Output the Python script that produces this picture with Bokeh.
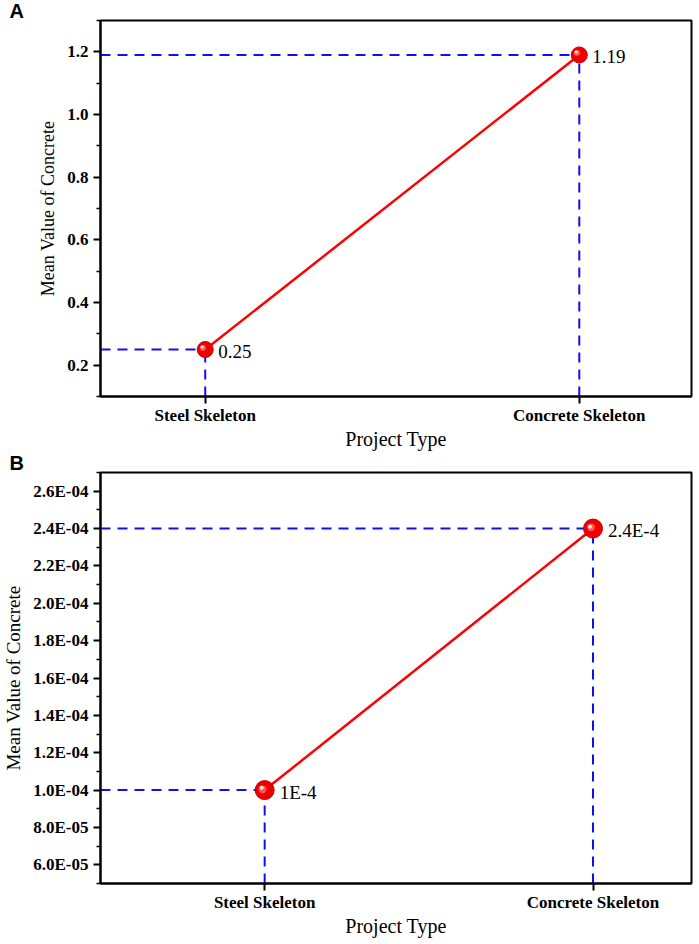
import numpy as np
from bokeh.plotting import figure
from bokeh.models import FixedTicker, Range1d, CustomJSTickFormatter
from bokeh.layouts import column
from bokeh.embed import file_html
from bokeh.resources import INLINE
from bokeh.core.properties import value

# ---------------- data ----------------
categories = ["Steel Skeleton", "Concrete Skeleton"]
x_pos = [0, 1]

values_a = [0.25, 1.19]
point_labels_a = ["0.25", "1.19"]
yticks_a = [0.2, 0.4, 0.6, 0.8, 1.0, 1.2]
yticks_a_labels = ["0.2", "0.4", "0.6", "0.8", "1.0", "1.2"]

values_b = [1.0e-4, 2.4e-4]
point_labels_b = ["1E-4", "2.4E-4"]
yticks_b = [6.0e-5, 8.0e-5, 1.0e-4, 1.2e-4, 1.4e-4, 1.6e-4, 1.8e-4,
            2.0e-4, 2.2e-4, 2.4e-4, 2.6e-4]
yticks_b_labels = ["6.0E-05", "8.0E-05", "1.0E-04", "1.2E-04", "1.4E-04",
                   "1.6E-04", "1.8E-04", "2.0E-04", "2.2E-04", "2.4E-04",
                   "2.6E-04"]

SERIF = "Liberation Serif"
RED = "#ff0000"
BLUE = "#1010ee"


def tick_fmt(ticks, labels):
    return CustomJSTickFormatter(args=dict(t=ticks, l=labels), code="""
        let b = 0;
        for (let i = 0; i < t.length; i++) {
            if (Math.abs(t[i] - tick) < Math.abs(t[b] - tick)) b = i;
        }
        return l[b];
    """)


def make_panel(values, point_labels, yticks, ytick_labels, minor, y_lo, y_hi,
               x_lo, x_hi, height, mb_bottom, msize, ylab_fs, letter, lab_off):
    p = figure(width=694, height=height, output_backend="svg",
               toolbar_location=None, title=letter,
               x_range=Range1d(x_lo, x_hi), y_range=Range1d(y_lo, y_hi),
               min_border_left=60, min_border_right=3,
               min_border_top=5, min_border_bottom=mb_bottom)
    p.grid.visible = False
    p.outline_line_color = "black"
    p.outline_line_width = 2
    p.background_fill_color = "white"
    p.border_fill_color = "white"

    # panel letter as the title, pushed left of the frame
    p.title.align = "left"
    p.title.vertical_align = "middle"
    p.title.offset = -91
    p.title.standoff = -4
    p.title.text_font = "Liberation Sans"
    p.title.text_font_style = "bold"
    p.title.text_font_size = "20px"
    p.title.text_color = "black"

    # axes
    p.xaxis.ticker = FixedTicker(ticks=x_pos)
    p.xaxis.major_label_overrides = {i: c for i, c in zip(x_pos, categories)}
    p.xaxis.minor_tick_line_color = None
    p.yaxis.ticker = FixedTicker(ticks=yticks, minor_ticks=minor)
    p.yaxis.formatter = tick_fmt(yticks, ytick_labels)
    for ax in (p.xaxis, p.yaxis):
        ax.axis_line_width = 2
        ax.axis_line_color = "black"
        ax.major_tick_line_width = 2
        ax.minor_tick_line_width = 1.5
        ax.major_tick_in = 0
        ax.major_tick_out = 7
        ax.minor_tick_in = 0
        ax.minor_tick_out = 4
        ax.major_label_text_font = SERIF
        ax.major_label_text_font_style = "bold"
        ax.major_label_text_font_size = "17px"
        ax.major_label_text_color = "black"
        ax.axis_label_text_font = SERIF
        ax.axis_label_text_font_style = "normal"
        ax.axis_label_text_color = "black"
    p.xaxis.major_label_standoff = 2
    p.yaxis.major_label_standoff = 5
    p.xaxis.axis_label = "Project Type"
    p.xaxis.axis_label_text_font_size = "20px"
    p.xaxis.axis_label_standoff = 0
    p.yaxis.axis_label = "Mean Value of Concrete"
    p.yaxis.axis_label_text_font_size = ylab_fs
    p.yaxis.axis_label_standoff = 6

    # dashed guide lines
    p.segment(x0=[x_lo] * len(values), y0=values, x1=x_pos, y1=values,
              line_color=BLUE, line_width=2, line_dash="10 7")
    p.segment(x0=x_pos, y0=[y_lo] * len(values), x1=x_pos, y1=values,
              line_color=BLUE, line_width=2, line_dash="10 7")

    # main line
    p.line(x_pos, values, line_color=RED, line_width=2.5)

    # sphere markers
    p.scatter(x_pos, values, size=msize, fill_color="#ee0000",
              line_color="#c80000", line_width=1)
    p.text(x_pos, values, text=["\u25cf"] * len(values),
           text_font=value("DejaVu Sans"), text_font_size="%dpx" % int(msize * 0.55),
           text_color="#ff5555", text_align="center", text_baseline="middle",
           x_offset=-2, y_offset=-2)
    p.text(x_pos, values, text=["\u25cf"] * len(values),
           text_font=value("DejaVu Sans"), text_font_size="%dpx" % int(msize * 0.3),
           text_color="#ffe0e0", text_align="center", text_baseline="middle",
           x_offset=-3, y_offset=-3)

    # value labels
    p.text(x_pos, values, text=point_labels, text_font=value(SERIF),
           text_font_size="19px", text_color="black", text_align="left",
           text_baseline="middle", x_offset=lab_off, y_offset=2)
    return p


pA = make_panel(values_a, point_labels_a, yticks_a, yticks_a_labels,
                [0.1, 0.3, 0.5, 0.7, 0.9, 1.1, 1.3], 0.1, 1.3, -0.28, 1.3,
                452, 54, 16, "18px", "A", 13)
pB = make_panel(values_b, point_labels_b, yticks_b, yticks_b_labels,
                [5e-5, 7e-5, 9e-5, 1.1e-4, 1.3e-4, 1.5e-4, 1.7e-4, 1.9e-4,
                 2.1e-4, 2.3e-4, 2.5e-4, 2.7e-4],
                5e-5, 2.7e-4, -0.5, 1.3,
                487, 53, 19, "19px", "B", 15)

layout = column(pA, pB, spacing=0)
open("out.html", "w").write(file_html(layout, INLINE))
